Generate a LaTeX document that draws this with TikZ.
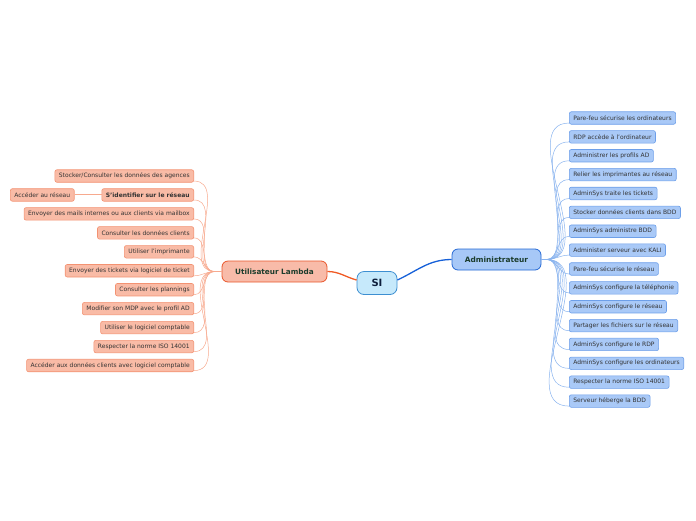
\documentclass[tikz,border=0pt]{standalone}
\usepackage{fontspec}
\setsansfont{DejaVu Sans}
\usetikzlibrary{positioning}

\definecolor{sifill}{HTML}{C6E9FB}
\definecolor{siline}{HTML}{3D8FD1}
\definecolor{rootink}{HTML}{0D1F3C}
\definecolor{userfill}{HTML}{F8BBA9}
\definecolor{userline}{HTML}{E9562B}
\definecolor{branchink}{HTML}{1B3C2C}
\definecolor{uleaffill}{HTML}{F9BBA6}
\definecolor{uleafline}{HTML}{F39272}
\definecolor{ulinkcol}{HTML}{F7A98E}
\definecolor{urootcol}{HTML}{F05A24}
\definecolor{adminfill}{HTML}{A7C8F7}
\definecolor{adminline}{HTML}{2468D4}
\definecolor{aleaffill}{HTML}{A9C9F7}
\definecolor{aleafline}{HTML}{6D9FE9}
\definecolor{alinkcol}{HTML}{89B3EE}
\definecolor{arootcol}{HTML}{1660D8}
\definecolor{leafink}{HTML}{333333}

\tikzset{
  root/.style     = {draw=siline, fill=sifill, rounded corners=7pt, line width=0.8pt,
                     minimum width=40pt, minimum height=23pt, text=rootink,
                     font=\sffamily\bfseries\fontsize{10}{12}\selectfont},
  userbox/.style  = {draw=userline, fill=userfill, rounded corners=6pt, line width=0.8pt,
                     minimum width=105pt, minimum height=21pt, text=branchink,
                     font=\sffamily\bfseries\fontsize{7.3}{8}\selectfont},
  adminbox/.style = {draw=adminline, fill=adminfill, rounded corners=6pt, line width=0.8pt,
                     minimum width=89pt, minimum height=21pt, text=branchink,
                     font=\sffamily\bfseries\fontsize{7.4}{8}\selectfont},
  leaf/.style     = {rounded corners=2pt, line width=0.6pt, minimum height=12.5pt,
                     inner xsep=4pt, inner ysep=0pt, text=leafink,
                     font=\sffamily\fontsize{6}{7}\selectfont},
  uleaf/.style    = {leaf, draw=uleafline, fill=uleaffill},
  aleaf/.style    = {leaf, draw=aleafline, fill=aleaffill},
  ulink/.style    = {draw=ulinkcol, line width=0.5pt},
  alink/.style    = {draw=alinkcol, line width=0.5pt},
  uroot/.style    = {draw=urootcol, line width=1.3pt},
  aroot/.style    = {draw=arootcol, line width=1.3pt}
}

\begin{document}
\begin{tikzpicture}[x=1pt, y=-1pt]
  \useasboundingbox (0,0) rectangle (696,520);

  % centre and the two branches
  \node[root]     (si)    at (377,283)     {SI};
  \node[userbox]  (user)  at (274.5,271.5) {Utilisateur Lambda};
  \node[adminbox] (admin) at (496.5,259.5) {Administrateur};

  \draw[uroot] (user.east) to[out=0, in=165] ([yshift=3pt]si.west);
  \draw[aroot] ([yshift=3pt]si.east) to[out=25, in=180] (admin.west);

  % user side
  \coordinate (ufan) at ([xshift=-7pt]user.west);
  \draw[ulink, line width=1pt] (user.west) -- (ufan);
  \foreach \txt [count=\i from 0] in {
      Stocker/Consulter les données des agences,
      \textbf{S'identifier sur le réseau},
      Envoyer des mails internes ou aux clients via mailbox,
      Consulter les données clients,
      Utiliser l'imprimante,
      Envoyer des tickets via logiciel de ticket,
      Consulter les plannings,
      Modifier son MDP avec le profil AD,
      Utiliser le logiciel comptable,
      Respecter la norme ISO 14001,
      Accéder aux données clients avec logiciel comptable} {
    \node[uleaf, anchor=east] (u\i) at (194, 176+18.95*\i) {\txt};
    \draw[ulink] (ufan) to[out=180, in=0] ([yshift=1.5pt]u\i.south east);
  }
  \node[uleaf, left=27pt of u1] (acces) {Accéder au réseau};
  \draw[ulink, line width=1pt] (u1) -- (acces);

  % admin side
  \coordinate (afan) at ([xshift=5pt]admin.east);
  \draw[alink, line width=1pt] (admin.east) -- (afan);
  \foreach \txt [count=\i from 0] in {
      Pare-feu sécurise les ordinateurs,
      RDP accède à l'ordinateur,
      Administrer les profils AD,
      Relier les imprimantes au réseau,
      AdminSys traite les tickets,
      Stocker données clients dans BDD,
      AdminSys administre BDD,
      Administer serveur avec KALI,
      Pare-feu sécurise le réseau,
      AdminSys configure la téléphonie,
      AdminSys configure le réseau,
      Partager les fichiers sur le réseau,
      AdminSys configure le RDP,
      AdminSys configure les ordinateurs,
      Respecter la norme ISO 14001,
      Serveur héberge la BDD} {
    \node[aleaf, anchor=west] (a\i) at (569, 118+18.87*\i) {\txt};
    \draw[alink] (afan) to[out=0, in=180] ([yshift=1.5pt]a\i.south west);
  }

\end{tikzpicture}
\end{document}
